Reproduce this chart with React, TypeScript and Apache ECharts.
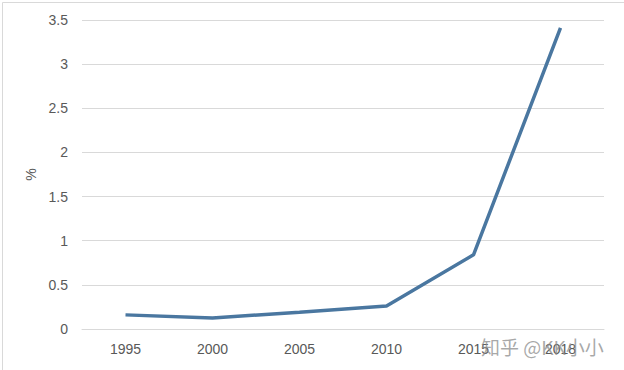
import React, { useEffect, useRef } from "react";
import * as echarts from "echarts";

const years = ["1995", "2000", "2005", "2010", "2015", "2018"];
const values = [0.16, 0.125, 0.19, 0.26, 0.84, 3.41];
const yTicks = [0, 0.5, 1, 1.5, 2, 2.5, 3, 3.5];
const watermark = "知乎 @KK小小";

export default function App() {
  const ref = useRef<HTMLDivElement>(null);
  useEffect(() => {
    if (!ref.current) return;
    const chart = echarts.init(ref.current, undefined, { renderer: "svg" });
    chart.setOption({
      animation: false,
      backgroundColor: "#ffffff",
      grid: { left: 82, right: 20, top: 20, bottom: 41 },
      xAxis: {
        type: "category",
        data: years,
        boundaryGap: true,
        axisLine: { show: true, lineStyle: { color: "#d9d9d9", width: 1 } },
        axisTick: { show: false },
        axisLabel: { color: "#595959", fontSize: 14, margin: 13, fontFamily: "Liberation Sans, Arial, sans-serif" },
      },
      yAxis: {
        type: "value",
        min: 0,
        max: yTicks[yTicks.length - 1],
        interval: 0.5,
        name: "%",
        nameLocation: "middle",
        nameGap: 44,
        nameRotate: 90,
        nameTextStyle: { color: "#595959", fontSize: 14, fontFamily: "Liberation Sans, Arial, sans-serif" },
        axisLine: { show: false },
        axisTick: { show: false },
        splitLine: { lineStyle: { color: "#d9d9d9", width: 1 } },
        axisLabel: {
          color: "#595959",
          fontSize: 14,
          margin: 14,
          fontFamily: "Liberation Sans, Arial, sans-serif",
          formatter: (v: number) => String(v),
        },
      },
      series: [
        {
          type: "line",
          data: values,
          symbol: "none",
          lineStyle: { color: "#4a77a0", width: 3.5 },
        },
      ],
      graphic: [
        {
          type: "rect",
          left: 0,
          top: 0,
          shape: { x: 0.5, y: 0.5, width: 623, height: 369 },
          style: { fill: "none", stroke: "#d9d9d9", lineWidth: 1 },
          silent: true,
        },
        {
          type: "text",
          left: 481,
          top: 337,
          style: {
            text: watermark,
            fill: "rgba(140,140,140,0.75)",
            fontSize: 19,
            fontFamily: "Noto Sans CJK SC, sans-serif",
          },
          z: 100,
        },
      ],
    });
    return () => chart.dispose();
  }, []);
  return (
    <div
      ref={ref}
      style={{ position: "absolute", left: 0, top: 0, width: 624, height: 370 }}
    />
  );
}
